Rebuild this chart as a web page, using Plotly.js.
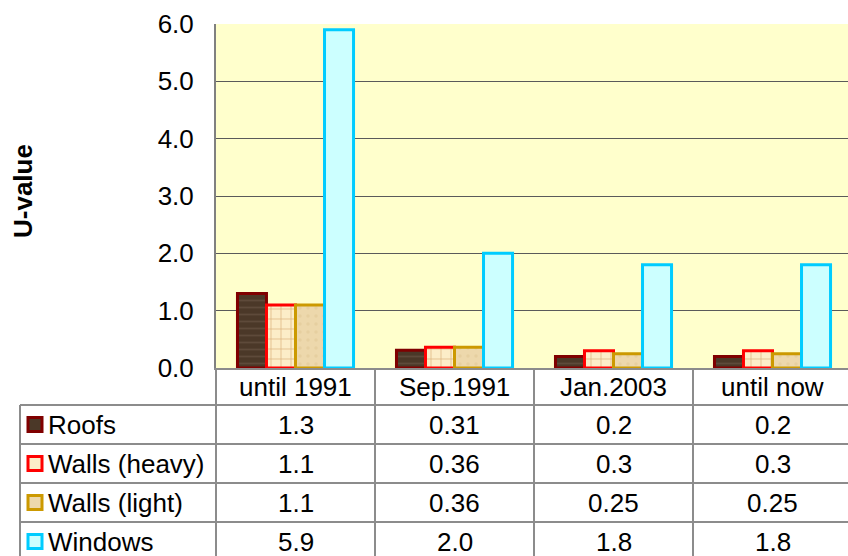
<!DOCTYPE html>
<html>
<head>
<meta charset="utf-8">
<script src="https://cdn.plot.ly/plotly-3.0.1.min.js"></script>
<style>
html, body { margin: 0; padding: 0; overflow: hidden; background: #fff; }
#chart { width: 852px; height: 556px; }
</style>
</head>
<body>
<div id="chart"></div>
<script>
// ---- data ----
const categories = ["until 1991", "Sep.1991", "Jan.2003", "until now"];
const seriesNames = ["Roofs", "Walls (heavy)", "Walls (light)", "Windows"];
const roofs = [1.3, 0.31, 0.2, 0.2];
const wallsHeavy = [1.1, 0.36, 0.3, 0.3];
const wallsLight = [1.1, 0.36, 0.25, 0.25];
const windows = [5.9, 2.0, 1.8, 1.8];
const roofsLabels = ["1.3", "0.31", "0.2", "0.2"];
const wallsHeavyLabels = ["1.1", "0.36", "0.3", "0.3"];
const wallsLightLabels = ["1.1", "0.36", "0.25", "0.25"];
const windowsLabels = ["5.9", "2.0", "1.8", "1.8"];
const yTicks = [0, 1, 2, 3, 4, 5, 6];

// ---- styles ----
const FONT = "Liberation Sans, Arial, sans-serif";
const FS = 26;
const styles = [
  {line: "#800000", bg: "#4B3828", fg: "#5E4A3A", shape: "-", size: 7, sol: 0.25},
  {line: "#FF0000", bg: "#FCEDC8", fg: "#DDB47C", shape: "+", size: 10, sol: 0.14},
  {line: "#CC9900", bg: "#EDD8AC", fg: "#E6CFA0", shape: ".", size: 8, sol: 0.15},
  {line: "#00CCFF", bg: "#CCFFFF", fg: "#CCFFFF", shape: "", size: 8, sol: 0.2}
];
const values = [roofs, wallsHeavy, wallsLight, windows];
const labels = [roofsLabels, wallsHeavyLabels, wallsLightLabels, windowsLabels];

// layout geometry (pixels)
const W = 852, H = 556, L = 216, T = 24, B = 188;
const plotW = W - L, plotH = H - T - B;
const px = x => (x - L) / plotW;           // pixel x -> paper
const py = y => (H - B - y) / plotH;       // pixel y -> paper

const traces = values.map((v, i) => ({
  type: "bar",
  x: categories,
  y: v,
  name: seriesNames[i],
  marker: {
    color: styles[i].bg,
    line: {color: styles[i].line, width: 3},
    pattern: styles[i].shape ? {shape: styles[i].shape, bgcolor: styles[i].bg, fgcolor: styles[i].fg,
                                size: styles[i].size, solidity: styles[i].sol, fillmode: "replace"} : undefined
  },
  hoverinfo: "skip"
}));

const gridCol = "#8C8C8C";
const shapes = [];
const annotations = [];
const rowLines = [405, 444, 483, 522];
const rowCenters = [424.5, 463.5, 502.5, 541.5];

// horizontal table lines
rowLines.forEach(y => shapes.push({type: "line", xref: "paper", yref: "paper",
  x0: px(20), x1: 1, y0: py(y), y1: py(y), line: {color: gridCol, width: 2}}));
// left table border and first column separator
shapes.push({type: "line", xref: "paper", yref: "paper", x0: px(20), x1: px(20), y0: py(405), y1: py(560), line: {color: gridCol, width: 2}});
shapes.push({type: "line", xref: "paper", yref: "paper", x0: 0, x1: 0, y0: 0, y1: py(560), line: {color: gridCol, width: 2}});
// category separators
for (let k = 0; k < categories.length - 1; k++) {
  shapes.push({type: "line", xref: "x", yref: "paper", x0: k + 0.5, x1: k + 0.5, y0: 0, y1: py(560), line: {color: gridCol, width: 2}});
}
// header labels
categories.forEach(c => annotations.push({xref: "x", yref: "paper", x: c, y: py(387), text: c,
  showarrow: false, xanchor: "center", yanchor: "middle", font: {family: FONT, size: FS, color: "#000"}}));
// table rows
seriesNames.forEach((name, i) => {
  const yc = py(rowCenters[i]);
  shapes.push({type: "rect", xref: "paper", yref: "paper", x0: px(28), x1: px(42), y0: yc - 7 / plotH, y1: yc + 7 / plotH,
    fillcolor: styles[i].bg, line: {color: styles[i].line, width: 3}});
  annotations.push({xref: "paper", yref: "paper", x: px(46), y: yc, text: name, showarrow: false,
    xanchor: "left", yanchor: "middle", font: {family: FONT, size: FS, color: "#000"}});
  labels[i].forEach((t, j) => annotations.push({xref: "x", yref: "paper", x: categories[j], y: yc, text: t,
    showarrow: false, xanchor: "center", yanchor: "middle", font: {family: FONT, size: FS, color: "#000"}}));
});
// y title
annotations.push({xref: "paper", yref: "paper", x: px(23), y: py(191), text: "<b>U-value</b>", textangle: -90,
  showarrow: false, xanchor: "center", yanchor: "middle", font: {family: FONT, size: 26, color: "#000"}});

const layout = {
  width: W, height: H,
  margin: {l: L, r: 0, t: T, b: B, pad: 0},
  paper_bgcolor: "#FFFFFF",
  plot_bgcolor: "#FFFFCC",
  showlegend: false,
  barmode: "group",
  bargap: 0.27,
  bargroupgap: 0,
  font: {family: FONT, size: FS, color: "#000"},
  xaxis: {type: "category", showticklabels: false, ticks: "", showgrid: false,
          showline: true, linecolor: gridCol, linewidth: 2, zeroline: false, fixedrange: true},
  yaxis: {range: [0, 6], tickvals: yTicks, ticktext: yTicks.map(v => v.toFixed(1)),
          ticks: "outside", ticklen: 15, tickcolor: "rgba(0,0,0,0)",
          tickfont: {family: FONT, size: FS, color: "#000"},
          showgrid: true, gridcolor: "#5A5A5A", gridwidth: 1, zeroline: false,
          showline: true, linecolor: "#808080", linewidth: 2, fixedrange: true},
  shapes: shapes,
  annotations: annotations
};

Plotly.newPlot("chart", traces, layout, {displayModeBar: false, staticPlot: true});
</script>
</body>
</html>
